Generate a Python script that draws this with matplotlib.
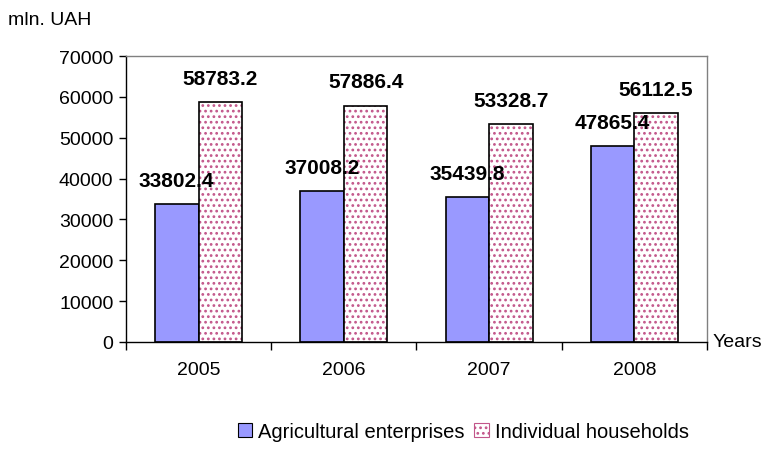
import numpy as np
import matplotlib.pyplot as plt
from matplotlib.patches import Patch

plt.rcParams['font.family'] = ['Liberation Sans', 'DejaVu Sans']
plt.rcParams['hatch.linewidth'] = 1.2

# data
years = ['2005', '2006', '2007', '2008']
enterprises = [33802.4, 37008.2, 35439.8, 47865.4]
households = [58783.2, 57886.4, 53328.7, 56112.5]

blue = '#9999FF'
dots = '#C2568A'

fig = plt.figure(figsize=(7.63, 4.64), dpi=100)
ax = fig.add_axes([0.165, 0.261, 0.7616, 0.616])

x = np.arange(len(years))
w = 0.30

# blue bars
ax.bar(x - w / 2, enterprises, w, color=blue, edgecolor='black', linewidth=1.2, zorder=2)
# dotted bars: hatch in pink, then black outline on top
ax.bar(x + w / 2, households, w, color='white', edgecolor=dots, hatch='...', linewidth=0, zorder=2)
ax.bar(x + w / 2, households, w, color='none', edgecolor='black', linewidth=1.2, zorder=3)

# value labels
for i in range(len(years)):
    ax.annotate(f'{enterprises[i]:.1f}', (x[i] - w / 2, enterprises[i]), xytext=(0, 17),
                textcoords='offset points', ha='center', va='center',
                fontsize=15, fontweight='bold', zorder=5)
    ax.annotate(f'{households[i]:.1f}', (x[i] + w / 2, households[i]), xytext=(0, 17),
                textcoords='offset points', ha='center', va='center',
                fontsize=15, fontweight='bold', zorder=5)

ax.set_xlim(-0.5, 3.5)
ax.set_ylim(0, 70000)
ax.set_yticks(np.arange(0, 70001, 10000))
ax.set_xticks(x)
ax.set_xticklabels(years)
ax.set_xticks(np.arange(-0.5, 3.6, 1), minor=True)
ax.tick_params(axis='x', which='major', length=0, pad=14, labelsize=14)
ax.tick_params(axis='x', which='minor', length=6, width=1, direction='out')
ax.tick_params(axis='y', length=5, width=1, direction='out', labelsize=14, pad=4)

for s in ['top', 'right']:
    ax.spines[s].set_color('#808080')
    ax.spines[s].set_linewidth(1)
for s in ['left', 'bottom']:
    ax.spines[s].set_color('black')
    ax.spines[s].set_linewidth(1)

fig.text(0.011, 0.955, 'mln. UAH', fontsize=14, ha='left', va='center')
fig.text(0.934, 0.262, 'Years', fontsize=14, ha='left', va='center')

handles = [Patch(facecolor=blue, edgecolor='black', linewidth=0.8),
           Patch(facecolor='white', edgecolor=dots, hatch='...', linewidth=0.8)]
leg = fig.legend(handles, ['Agricultural enterprises', 'Individual households'],
                 loc='center', bbox_to_anchor=(0.607, 0.068), ncol=2, frameon=False,
                 fontsize=14.5, handlelength=0.7, handleheight=0.7, handletextpad=0.3,
                 columnspacing=0.5, borderpad=0)

fig.savefig('out.png', dpi=100)
